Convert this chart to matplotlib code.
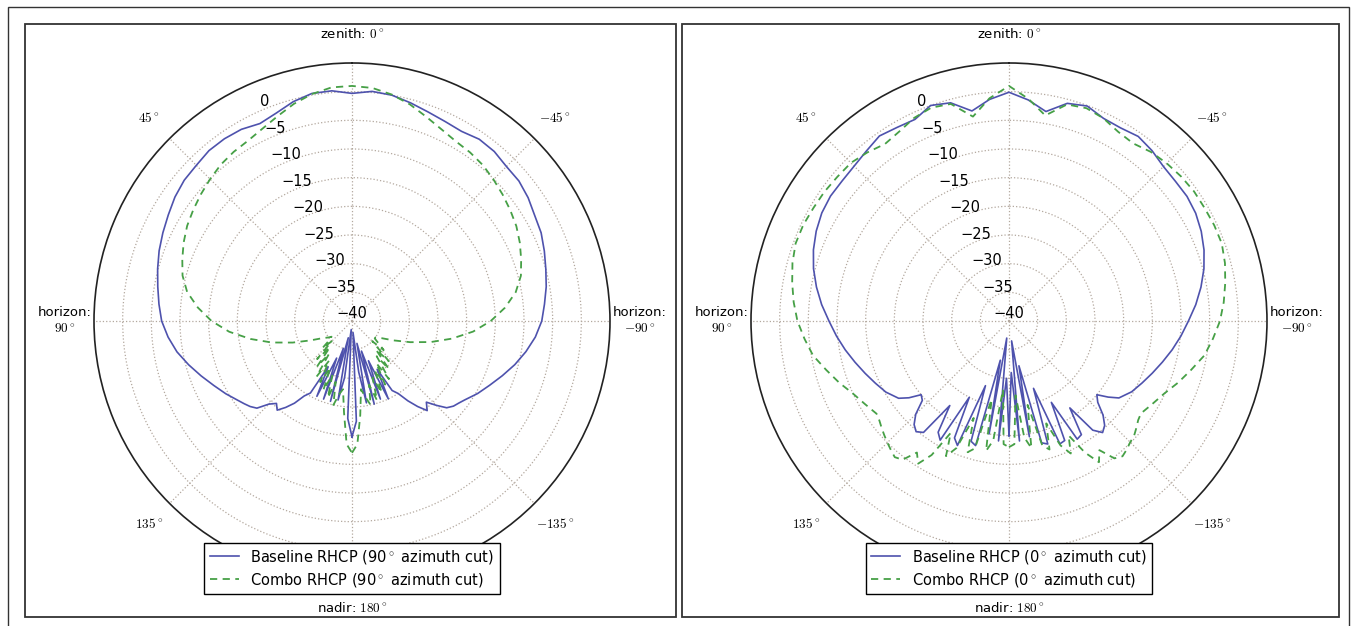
import numpy as np
import matplotlib
matplotlib.use('Agg')
import matplotlib.pyplot as plt
from matplotlib.patches import Rectangle

plt.rcParams['mathtext.fontset'] = 'cm'
plt.rcParams['font.family'] = 'DejaVu Sans'

# elevation angle grid (deg from zenith), coarse on the main lobe, finer in the back lobes
half_deg = list(range(0, 126, 5)) + [127.5 + 2.5 * i for i in range(22)]

# --- 90 deg azimuth cut (left panel), dB; *_l = left side (+theta), *_r = right side (-theta)
base90_l = [-0.3, 0.3, 0.3, -0.4, -1.4, -2.0, -1.4, -1.2, -1.2, -1.6, -1.8, -2.3, -3.0, -3.6, -4.2, -4.9,
            -5.6, -6.2, -6.8, -7.8, -9.0, -10.5, -12.0, -13.4, -14.6, -15.8,
            -16.3, -16.8, -17.5, -19.5, -20.5, -19.7, -21.0, -22.5, -24.5, -25.5, -31.0, -25.5, -33.0, -25.5,
            -35.0, -25.5, -37.0, -26.0, -30.0, -38.5, -23.0, -19.8]
base90_r = [-0.3, 0.2, 0.0, -0.6, -1.2, -1.6, -1.8, -1.3, -1.4, -1.9, -2.0, -2.5, -3.2, -3.6, -4.3, -5.0,
            -5.6, -6.3, -6.9, -7.9, -9.2, -10.6, -12.1, -13.5, -14.7, -16.0,
            -16.5, -16.9, -17.6, -19.2, -20.8, -19.6, -21.2, -23.0, -25.0, -26.0, -30.5, -25.0, -32.5, -25.5,
            -34.5, -25.0, -36.0, -25.5, -31.0, -38.0, -22.5, -19.8]
combo90_l = [1.0, 0.9, 0.2, -0.8, -2.0, -3.0, -3.7, -4.0, -4.4, -5.0, -5.6, -6.2, -6.8, -7.6, -8.5, -9.4,
             -10.8, -13.0, -15.5, -18.5, -22.0, -25.5, -29.0, -32.0, -34.0, -35.0,
             -35.5, -35.0, -33.0, -35.0, -31.0, -34.0, -30.0, -33.0, -28.5, -32.0, -28.0, -31.0, -27.0, -30.0,
             -26.0, -29.0, -25.0, -27.0, -28.0, -24.0, -18.5, -17.0]
combo90_r = [1.0, 0.8, 0.1, -0.9, -2.1, -3.1, -3.8, -4.1, -4.5, -5.1, -5.7, -6.3, -6.9, -7.7, -8.6, -9.5,
             -11.0, -13.2, -15.8, -18.8, -22.3, -25.8, -29.2, -32.0, -34.0, -35.0,
             -35.0, -34.0, -32.5, -35.0, -30.5, -33.5, -29.5, -32.5, -28.0, -31.5, -27.5, -30.5, -26.5, -29.5,
             -25.5, -28.5, -25.0, -26.5, -28.0, -23.5, -18.5, -17.0]

# --- 0 deg azimuth cut (right panel)
base0_l = [-0.1, -1.2, -2.8, -0.6, 0.0, -1.2, -1.0, -0.6, -1.3, -1.8, -2.0, -2.0, -2.3, -2.9, -3.7, -4.7,
           -5.9, -7.2, -8.6, -9.8, -11.0, -12.2, -13.3, -14.3, -15.2, -16.5,
           -18.0, -20.0, -19.5, -17.0, -15.5, -14.8, -15.5, -22.0, -17.0, -16.0, -25.0, -17.5, -16.5, -28.0,
           -18.0, -17.5, -33.0, -20.0, -37.0, -19.0, -30.0, -20.0]
base0_r = [-0.1, -1.3, -2.9, -0.7, -0.1, -1.0, -1.1, -0.7, -1.2, -1.9, -2.1, -2.1, -2.4, -3.0, -3.8, -4.8,
           -6.0, -7.3, -8.7, -9.9, -11.1, -12.3, -13.4, -14.4, -15.3, -16.6,
           -18.2, -20.0, -19.0, -16.8, -15.3, -14.6, -16.0, -21.5, -16.5, -16.2, -24.0, -17.0, -16.8, -27.5,
           -17.5, -18.0, -32.0, -19.5, -36.5, -19.0, -31.0, -20.0]
combo0_l = [1.0, -1.0, -3.8, -0.8, -0.4, -0.9, -1.8, -2.3, -1.6, -1.0, -0.9, -0.7, -0.6, -0.4, -0.4, -0.9,
            -1.6, -2.3, -3.1, -4.2, -5.3, -7.0, -8.5, -10.0, -11.0, -11.8,
            -11.5, -11.0, -10.5, -10.0, -9.5, -9.0, -9.5, -12.0, -10.5, -13.0, -18.0, -14.0, -16.0, -22.0,
            -16.0, -17.0, -26.0, -17.0, -19.0, -28.0, -18.5, -18.0]
combo0_r = [1.0, -1.1, -3.6, -0.9, -0.5, -1.0, -1.9, -2.2, -1.5, -1.1, -0.8, -0.6, -0.6, -0.5, -0.5, -1.0,
            -1.7, -2.4, -3.2, -4.3, -5.4, -7.1, -8.6, -10.1, -11.1, -11.9,
            -11.6, -11.0, -10.4, -10.1, -9.6, -9.2, -9.8, -12.5, -10.8, -13.5, -17.5, -14.5, -16.5, -21.0,
            -16.5, -17.5, -25.0, -17.5, -19.5, -27.0, -18.5, -18.0]

r_ticks = list(range(-40, 1, 5))
theta_labels = [(0, 'zenith: $0^\\circ$'), (45, '$45^\\circ$'), (90, 'horizon:\n$90^\\circ$'),
                (135, '$135^\\circ$'), (180, 'nadir: $180^\\circ$'), (-135, '$-135^\\circ$'),
                (-90, 'horizon:\n$-90^\\circ$'), (-45, '$-45^\\circ$')]

BLUE = '#4e52ad'
GREEN = '#46a046'


def full_curve(left_vals, right_vals):
    th = [-a for a in half_deg[::-1]] + half_deg[1:]
    r = right_vals[::-1] + left_vals[1:]
    return np.deg2rad(th), np.array(r)


def draw_panel(ax, base_l, base_r, combo_l, combo_r, cut):
    ax.set_theta_zero_location('N')
    ax.set_theta_direction(1)
    th, r = full_curve(base_l, base_r)
    ax.plot(th, r, color=BLUE, lw=1.2, label='Baseline RHCP (%s$^\\circ$ azimuth cut)' % cut)
    th, r = full_curve(combo_l, combo_r)
    ax.plot(th, r, color=GREEN, lw=1.3, ls=(0, (4, 3)), label='Combo RHCP (%s$^\\circ$ azimuth cut)' % cut)
    ax.set_rlim(-40, 5)
    ax.set_rticks(r_ticks)
    ax.set_yticklabels([])
    ax.set_thetagrids(range(0, 360, 45), labels=[''] * 8)
    ax.grid(True, linestyle=':', color='#b3a89e', lw=0.9)
    ax.spines['polar'].set_color('#222222')
    ax.spines['polar'].set_linewidth(1.2)
    for v in r_ticks:
        ax.text(np.deg2rad(22.5), v, str(v).replace('-', '\u2212'), ha='center', va='bottom', fontsize=10.5)
    for a, lab in theta_labels:
        ax.text(np.deg2rad(a), 5 + 45 * 0.114, lab, ha='center', va='center', fontsize=9.5)
    leg = ax.legend(loc='lower center', bbox_to_anchor=(0.5, -0.029), fontsize=10.5, fancybox=False,
                    edgecolor='black', framealpha=1, borderaxespad=0, handlelength=2,
                    borderpad=0.35, labelspacing=0.35)
    leg.get_frame().set_linewidth(1.0)


fig = plt.figure(figsize=(13.56, 6.26), dpi=100)
ax1 = fig.add_axes([0.06932, 0.07508, 0.38053, 0.82428], projection='polar')
ax2 = fig.add_axes([0.55383, 0.07508, 0.38053, 0.82428], projection='polar')
draw_panel(ax1, base90_l, base90_r, combo90_l, combo90_r, '90')
draw_panel(ax2, base0_l, base0_r, combo0_l, combo0_r, '0')

# panel frames and outer border
for x0, w in [(0.01844, 0.48009), (0.50295, 0.48451)]:
    fig.add_artist(Rectangle((x0, 0.01438), w, 0.94728, transform=fig.transFigure,
                             fill=False, edgecolor='#333333', lw=1.3))
fig.add_artist(Rectangle((0.0059, -0.01), 0.9889, 0.9988, transform=fig.transFigure,
                         fill=False, edgecolor='#333333', lw=1.0))

fig.savefig('out.png', dpi=100, facecolor='white')
